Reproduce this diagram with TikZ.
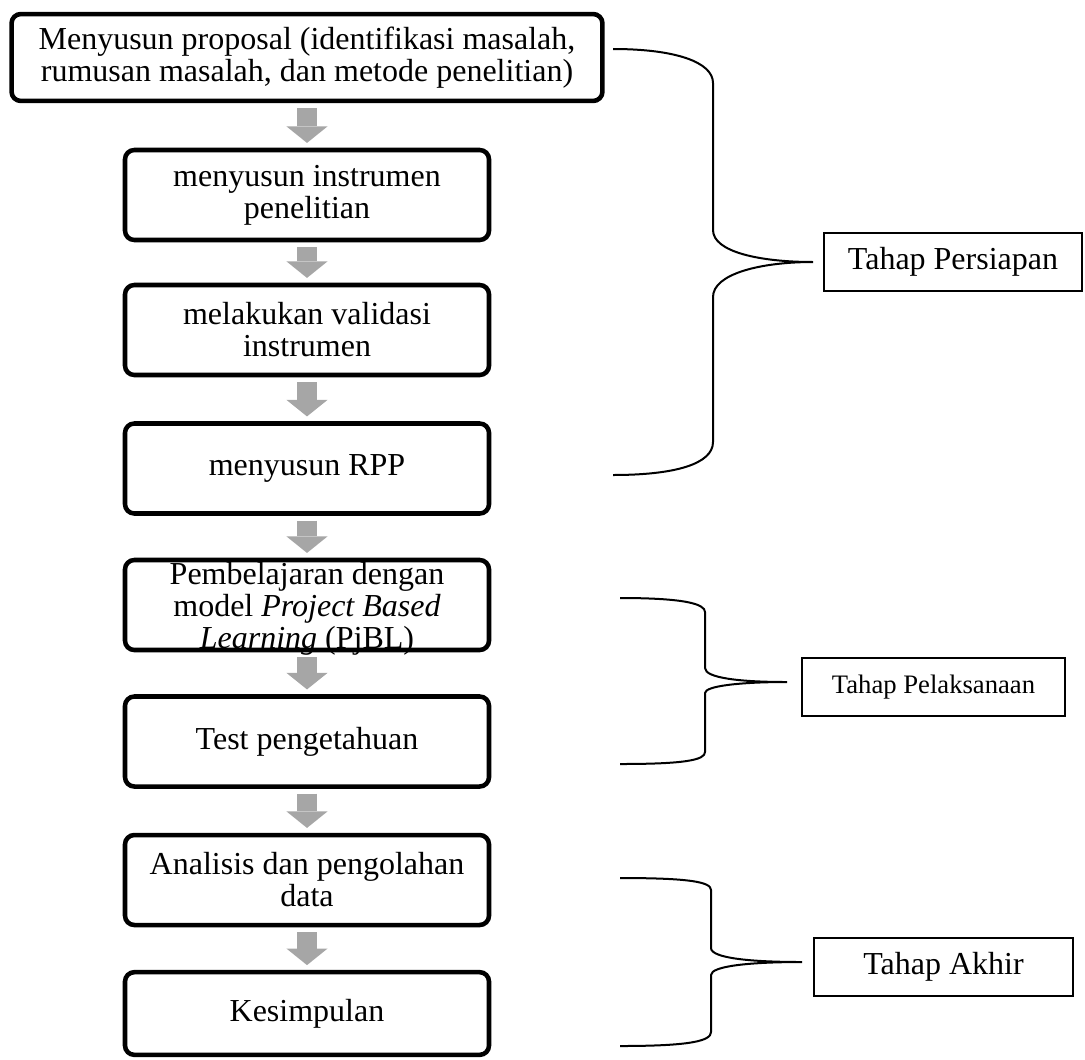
\documentclass[tikz,border=0pt]{standalone}
\usepackage{fontspec}
\setmainfont{Liberation Serif}
\usetikzlibrary{arrows.meta}
\definecolor{arrowgray}{RGB}{166,166,166}

\begin{document}
\begin{tikzpicture}[x=.375pt,y=-.375pt,
    box/.style={draw,rounded corners=3.5pt,line width=1.7pt,minimum width=136.5pt,minimum height=33.75pt,inner xsep=4pt,inner ysep=0pt,align=center,font=\fontsize{12}{12}\selectfont},
    stage/.style={draw,line width=.75pt,minimum width=97pt,minimum height=21.75pt,inner sep=0pt,font=\fontsize{12}{12}\selectfont},
    flow/.style={draw=arrowgray,line width=7.5pt,shorten <=1.8pt,shorten >=1.8pt,-{Triangle[length=6.2pt,width=15.4pt,line width=0pt 0 0]}},
    brace/.style={line width=.75pt}]

     \useasboundingbox (0,0) rectangle (1085,1059);

     \path (307,57.5) node[box,minimum width=221.6pt,minimum height=32.6pt] (1) {Menyusun proposal (identifikasi masalah,\\ rumusan masalah, dan metode penelitian)};
      \path (307,195) node[box] (2) {menyusun instrumen\\ penelitian};
      \path (307,330) node[box] (3) {melakukan validasi\\ instrumen};
      \path (307,468.5) node[box] (4) {menyusun RPP};
      \path (307,605) node[box,inner ysep=-2pt,text depth=-1.6pt] (5) {Pembelajaran dengan\\ model \textit{Project Based}\\ \textit{Learning} (PjBL)};
      \path (307,741.5) node[box] (6) {Test pengetahuan};
      \path (307,880) node[box] (7) {Analisis dan pengolahan\\ data};
      \path (307,1013.5) node[box,minimum height=31pt] (8) {Kesimpulan};

      \path (953,262) node[stage] (A) {Tahap Persiapan};
      \path (933.5,687) node[stage,minimum width=98.6pt,font=\fontsize{10}{10}\selectfont] (B) {Tahap Pelaksanaan};
      \path (943.5,967) node[stage] (C) {Tahap Akhir};

      \draw[flow] (1) -- (2);
      \draw[flow] (2) -- (3);
      \draw[flow] (3) -- (4);
      \draw[flow] (4) -- (5);
      \draw[flow] (5) -- (6);
      \draw[flow] (6) -- (7);
      \draw[flow] (7) -- (8);

      % braces
      \draw[brace] (613,49) .. controls (675,49) and (713,62) .. (713,83) -- (713,230)
        .. controls (713,252) and (760,262) .. (813,262)
        .. controls (760,262) and (713,274) .. (713,297) -- (713,442)
        .. controls (713,464) and (675,475) .. (613,475);
      \draw[brace] (620,598) .. controls (685,598) and (705,604) .. (705,612) -- (705,668)
        .. controls (705,678) and (740,682) .. (787,682)
        .. controls (740,682) and (705,686) .. (705,693) -- (705,752)
        .. controls (705,760) and (685,764) .. (620,764);
      \draw[brace] (620,878) .. controls (690,878) and (711,882) .. (711,890) -- (711,948)
        .. controls (711,958) and (750,962) .. (802,962)
        .. controls (750,962) and (711,966) .. (711,975) -- (711,1032)
        .. controls (711,1041) and (690,1046) .. (620,1046);

   \end{tikzpicture}
\end{document}
